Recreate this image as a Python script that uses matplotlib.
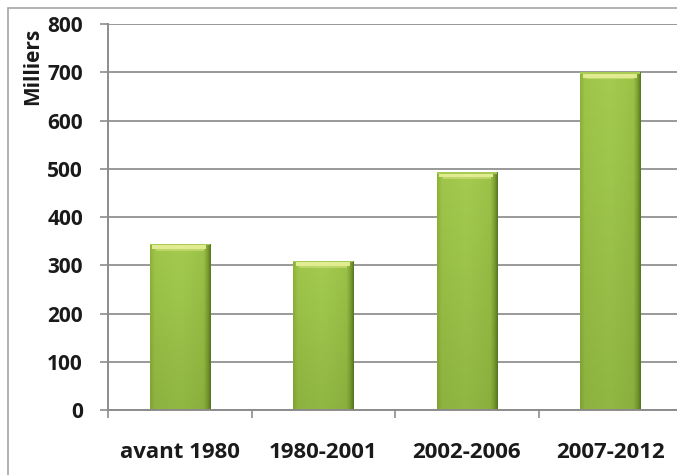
import numpy as np
import matplotlib
matplotlib.use("Agg")
import matplotlib.pyplot as plt
from matplotlib.patches import Rectangle
from matplotlib.colors import LinearSegmentedColormap

categories = ["avant 1980", "1980-2001", "2002-2006", "2007-2012"]
values = [344, 309, 493, 700]
y_ticks = [0, 100, 200, 300, 400, 500, 600, 700, 800]
y_label = "Milliers"

plt.rcParams['font.family'] = ['Open Sans', 'DejaVu Sans']
fig = plt.figure(figsize=(6.77, 4.75), dpi=100)
W, H = 677, 475

# outer chart border (partly cropped in reference)
fig.patches.append(Rectangle((8 / W, -0.2), 2.0, 1 - 8 / H + 0.2, transform=fig.transFigure,
                             fill=False, edgecolor="#a6a6a6", linewidth=1.2))

ax = fig.add_axes([108 / W, (H - 410) / H, (682 - 108) / W, (410 - 24) / H])
x = np.arange(len(categories))
bw = 0.42
bars = ax.bar(x, values, width=bw, color="#9fc64a", edgecolor="none", zorder=3)

# gradient fill per bar
cmap_h = LinearSegmentedColormap.from_list(
    "g", [(0, "#8cb23a"), (0.08, "#9fc64a"), (0.5, "#a5cc50"), (0.88, "#9cc248"),
          (0.95, "#7c9f30"), (1.0, "#56761f")])
grad = np.linspace(0, 1, 256).reshape(1, -1)
for b in bars:
    x0, w, h = b.get_x(), b.get_width(), b.get_height()
    im = ax.imshow(grad, extent=[x0, x0 + w, 0, h], aspect="auto", cmap=cmap_h, zorder=3.1,
                   interpolation="bilinear")
    im.set_clip_path(b)
    # vertical darkening toward bottom
    vg = np.linspace(0, 1, 64)
    shade = np.zeros((64, 1, 4))
    shade[..., 0] = 0.3
    shade[..., 1] = 0.42
    shade[..., 2] = 0.1
    shade[:, 0, 3] = vg * 0.22
    im2 = ax.imshow(shade, extent=[x0, x0 + w, 0, h], aspect="auto", zorder=3.2, origin="upper",
                    interpolation="bilinear")
    im2.set_clip_path(b)
    # top highlight band
    ax.add_patch(Rectangle((x0 + w * 0.04, h - 11), w * 0.9, 8, facecolor="#e9f09a",
                           edgecolor="none", zorder=3.3, alpha=0.9))
    ax.add_patch(Rectangle((x0 + w * 0.1, h - 14), w * 0.8, 3, facecolor="#c4dc70",
                           edgecolor="none", zorder=3.3, alpha=0.8))
    ax.add_patch(Rectangle((x0, h - 3), w, 3, facecolor="#a8cc52", edgecolor="none", zorder=3.3))

fs_x = 16
fs_y = 15
ax.set_xlim(-0.5, len(categories) - 0.5)
ax.set_ylim(0, 800)
ax.set_yticks(y_ticks)
ax.set_yticklabels([str(v) for v in y_ticks], fontsize=fs_y, fontweight="bold", color="#1a1a1a")
ax.set_xticks(x)
ax.set_xticklabels(categories, fontsize=fs_x, fontweight="bold", color="#1a1a1a")
ax.set_xticks(np.arange(len(categories)) - 0.5, minor=True)
ax.tick_params(axis="x", which="major", length=0, pad=23)
ax.tick_params(axis="x", which="minor", length=6, color="#8c8c8c", width=1.2, direction="out")
ax.tick_params(axis="y", length=6, color="#8c8c8c", width=1.2, pad=12)

ax.yaxis.grid(True, color="#999999", linewidth=1.4, zorder=1)
ax.set_axisbelow(True)
for s in ["top", "right"]:
    ax.spines[s].set_visible(False)
for s in ["left", "bottom"]:
    ax.spines[s].set_color("#8c8c8c")
    ax.spines[s].set_linewidth(1.4)
ax.spines["bottom"].set_zorder(4)

fig.text(33 / W, 1 - 66 / H, y_label, rotation=90, fontsize=fs_y, fontweight="bold",
         color="#1a1a1a", ha="center", va="center")

fig.savefig("out.png", dpi=100)
